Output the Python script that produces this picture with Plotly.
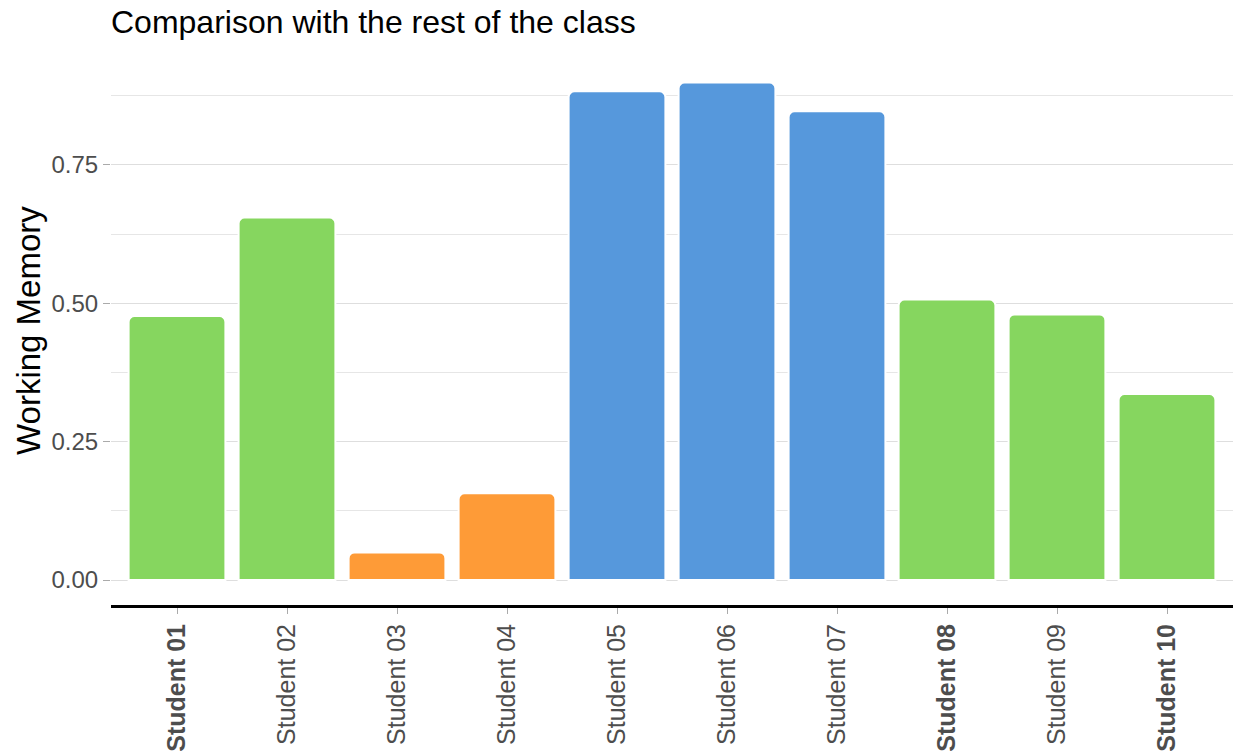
import plotly.graph_objects as go

students = ["Student 01", "Student 02", "Student 03", "Student 04", "Student 05",
            "Student 06", "Student 07", "Student 08", "Student 09", "Student 10"]
values = [0.477, 0.655, 0.050, 0.157, 0.883, 0.899, 0.847, 0.507, 0.480, 0.336]
groups = ["mid", "mid", "low", "low", "high", "high", "high", "mid", "mid", "mid"]
bold_students = ["Student 01", "Student 08", "Student 10"]
y_ticks = [0.0, 0.25, 0.5, 0.75]
y_ticklabels = ["0.00", "0.25", "0.50", "0.75"]
minor_ticks = [0.125, 0.375, 0.625, 0.875]

palette = {"low": "#FE9B37", "mid": "#86D65F", "high": "#5698DC"}
colors = [palette[g] for g in groups]
ticktext = [f"<b>{s}</b>" if s in bold_students else s for s in students]

fig = go.Figure(go.Bar(
    x=students, y=values,
    marker=dict(color=colors, line=dict(color="white", width=2), cornerradius=6),
    width=0.88, showlegend=False,
))

W, H = 1236, 753
L, R, T, B = 111, 3, 57, 148

fig.update_layout(
    width=W, height=H,
    margin=dict(l=L, r=R, t=T, b=B),
    paper_bgcolor="white", plot_bgcolor="white",
    font=dict(family="Liberation Sans, Arial, sans-serif", color="#4D4D4D"),
    title=dict(text="Comparison with the rest of the class", x=L / W, xanchor="left",
               y=1 - 22 / H, yanchor="middle", yref="container",
               font=dict(size=32, color="black")),
    bargap=0.12,
)
fig.update_xaxes(
    tickvals=students, ticktext=ticktext, tickangle=-90,
    range=[-0.6, 9.6], automargin=False,
    showline=True, linecolor="black", linewidth=3,
    ticks="outside", ticklen=6, tickcolor="#AAAAAA", tickwidth=1,
    tickfont=dict(size=25, color="#4D4D4D"),
    showgrid=False, zeroline=False,
)
fig.update_yaxes(
    range=[-0.045, 0.945], automargin=False,
    tickvals=y_ticks, ticktext=y_ticklabels,
    ticks="outside", ticklen=7, tickcolor="#AAAAAA", tickwidth=1,
    tickfont=dict(size=24, color="#4D4D4D"),
    showgrid=True, gridcolor="#DEDEDE", gridwidth=1,
    minor=dict(tickvals=minor_ticks, showgrid=True, gridcolor="#E6E6E6", gridwidth=1, ticks=""),
    zeroline=False, showline=False,
)
fig.add_annotation(
    text="Working Memory", xref="paper", yref="paper", x=0, y=0.5,
    xanchor="center", yanchor="middle",
    xshift=-83, textangle=-90, showarrow=False,
    font=dict(size=33, color="black"),
)
fig.write_html("out.html",
               config={"displayModeBar": False},
               post_script="document.body.style.margin='0';document.body.style.overflow='hidden';")
